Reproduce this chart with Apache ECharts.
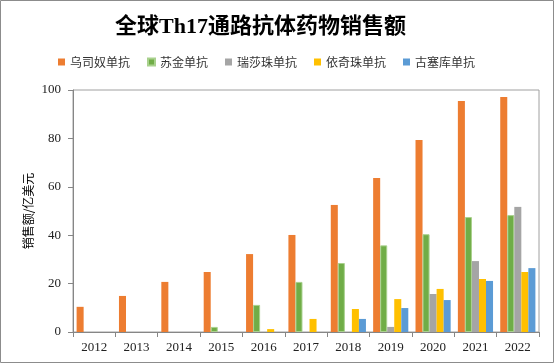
<!DOCTYPE html>
<html>
<head>
<meta charset="utf-8">
<script src="https://cdn.jsdelivr.net/npm/echarts@6/dist/echarts.min.js"></script>
<style>
html,body{margin:0;padding:0;background:#fff;}
#chart{width:554px;height:364px;}
</style>
</head>
<body>
<div id="chart"></div>
<script>
var titleText = '全球Th17通路抗体药物销售额';
var yAxisName = '销售额/亿美元';
var years = ['2012','2013','2014','2015','2016','2017','2018','2019','2020','2021','2022'];
var seriesNames = ['乌司奴单抗','苏金单抗','瑞莎珠单抗','依奇珠单抗','古塞库单抗'];
var ustekinumab = [10.4, 14.9, 20.7, 24.8, 32.2, 40.1, 52.5, 63.6, 79.3, 95.5, 97.1];
var secukinumab = [null, null, null, 2.1, 11.2, 20.7, 28.5, 35.8, 40.4, 47.5, 48.3];
var risankizumab = [null, null, null, null, null, null, null, 2.1, 15.7, 29.3, 51.7];
var ixekizumab = [null, null, null, null, 1.2, 5.4, 9.5, 13.6, 17.8, 21.9, 24.8];
var guselkumab = [null, null, null, null, null, null, 5.4, 9.9, 13.2, 21.1, 26.4];
var yTicks = [0, 20, 40, 60, 80, 100];

var colors = ['#ED7D31', '#70AD47', '#A5A5A5', '#FFC000', '#5B9BD5'];
var dataList = [ustekinumab, secukinumab, risankizumab, ixekizumab, guselkumab];

var chart = echarts.init(document.getElementById('chart'));
var series = seriesNames.map(function (n, i) {
  var s = {
    name: n, type: 'bar', data: dataList[i],
    barGap: '0%', barCategoryGap: '17%',
    itemStyle: { color: colors[i] }
  };
  if (i === 1) { s.itemStyle.borderColor = '#A9D18E'; s.itemStyle.borderWidth = 1; }
  return s;
});
chart.setOption({
  animation: false,
  color: colors,
  graphic: [{
    type: 'rect', silent: true,
    shape: { x: 0.5, y: 0.5, width: 553, height: 362 },
    style: { fill: null, stroke: '#8c8c8c', lineWidth: 1 }
  }],
  title: {
    text: titleText, left: 110, top: 11,
    textStyle: { fontFamily: 'Liberation Serif, Noto Sans CJK SC', fontWeight: 'bold', fontSize: 22, color: '#000' }
  },
  legend: {
    data: seriesNames, left: 53, top: 51,
    icon: 'rect', itemWidth: 7, itemHeight: 7, itemGap: 17,
    textStyle: { fontFamily: 'Noto Sans CJK SC', fontSize: 12, color: '#333' }
  },
  grid: {
    left: 73, right: 15, top: 90, bottom: 32,
    show: true, borderColor: '#a0a0a0', borderWidth: 1
  },
  xAxis: {
    type: 'category', data: years,
    axisLine: { lineStyle: { color: '#868686' } },
    axisTick: { show: true, length: 5, lineStyle: { color: '#868686' } },
    axisLabel: { fontFamily: 'Liberation Serif', fontSize: 13, color: '#222', margin: 9 }
  },
  yAxis: {
    type: 'value', min: yTicks[0], max: yTicks[yTicks.length - 1], interval: 20,
    name: yAxisName, nameLocation: 'middle', nameRotate: 90, nameGap: 39,
    nameMoveOverlap: false,
    nameTextStyle: { fontFamily: 'Noto Sans CJK SC', fontSize: 12, color: '#000' },
    axisLine: { show: true, lineStyle: { color: '#868686' } },
    axisTick: { show: true, length: 5, lineStyle: { color: '#868686' } },
    splitLine: { show: false },
    axisLabel: { fontFamily: 'Liberation Serif', fontSize: 13, color: '#222', margin: 12 }
  },
  series: series
});
</script>
</body>
</html>
